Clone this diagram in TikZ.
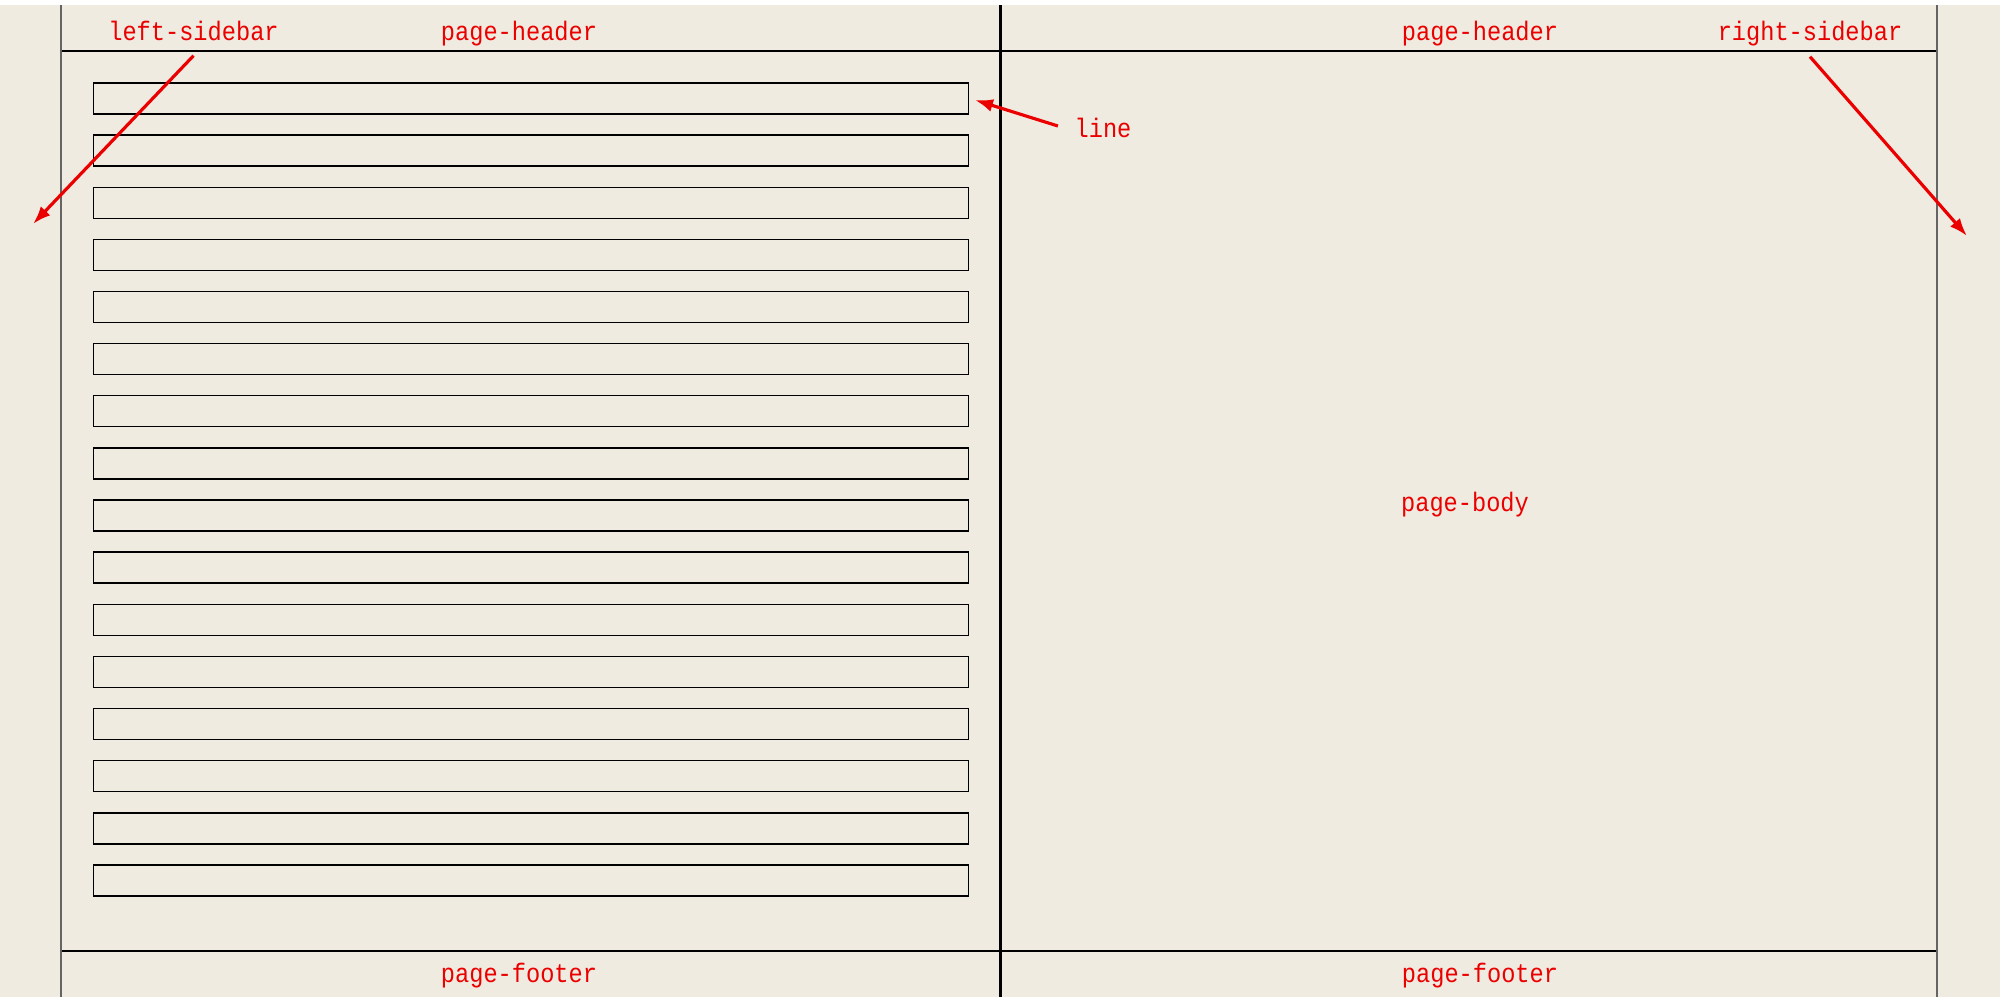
\documentclass[tikz,border=0pt]{standalone}
\usepackage{fontspec}
\newfontfamily\lblfont[FakeStretch=0.885]{Liberation Mono}
\usetikzlibrary{arrows.meta}
\definecolor{pagebg}{RGB}{239,235,225}
\definecolor{lblred}{RGB}{235,0,0}
\definecolor{sidegray}{RGB}{100,100,100}
\begin{document}
\begin{tikzpicture}[x=0.01cm,y=-0.01cm,
  lbl/.style={text=lblred, font=\lblfont\fontsize{7.6pt}{9pt}\selectfont, inner sep=0pt, text height=0.2cm, text depth=0.12cm, anchor=base},
  linebox/.style={draw=black, line width=0.4pt, minimum width=8.74cm, minimum height=0.31cm, inner sep=0pt},
  redarrow/.style={draw=lblred, line width=0.9pt, -{Latex[length=0.18cm,width=0.13cm]}},
  hline/.style={draw=black, line width=0.6pt},
  sideline/.style={draw=sidegray, line width=0.75pt},
  midline/.style={draw=black, line width=0.85pt}]
\useasboundingbox (0,0) rectangle (2000,1006);
\fill[white] (0,0) rectangle (2000,1006);
\fill[pagebg] (0,5) rectangle (2000,997);
% frame lines
\draw[hline] (61,51) -- (1937,51);
\draw[hline] (61,951) -- (1937,951);
\draw[sideline] (61,5) -- (61,997);
\draw[sideline] (1937,5) -- (1937,997);
\draw[midline] (1000,5) -- (1000,997);
% line boxes
\foreach \i in {1,...,16}{
  \pgfmathsetmacro{\yc}{98.5+52.13*(\i-1)}
  \node[linebox] (b\i) at (531,\yc) {};
}
% labels
\node[lbl] (lsb) at (193.5,41) {left-sidebar};
\node[lbl] (phl) at (519,41) {page-header};
\node[lbl] (phr) at (1480,41) {page-header};
\node[lbl] (rsb) at (1810,41) {right-sidebar};
\node[lbl, inner xsep=0.16cm] (lin) at (1103,137) {line};
\node[lbl] (pbody) at (1465,511) {page-body};
\node[lbl] (pfl) at (519,982) {page-footer};
\node[lbl] (pfr) at (1480,982) {page-footer};
% arrow targets
\coordinate (lsbtip) at (33,224);
\coordinate (rsbtip) at (1967,236);
\coordinate (lintip) at (975,100);
\draw[redarrow] ([yshift=-0.02cm]lsb.south) -- (lsbtip);
\draw[redarrow] ([yshift=-0.03cm]rsb.south) -- (rsbtip);
\draw[redarrow] ([yshift=0.07cm]lin.west) -- (lintip);
\end{tikzpicture}
\end{document}
